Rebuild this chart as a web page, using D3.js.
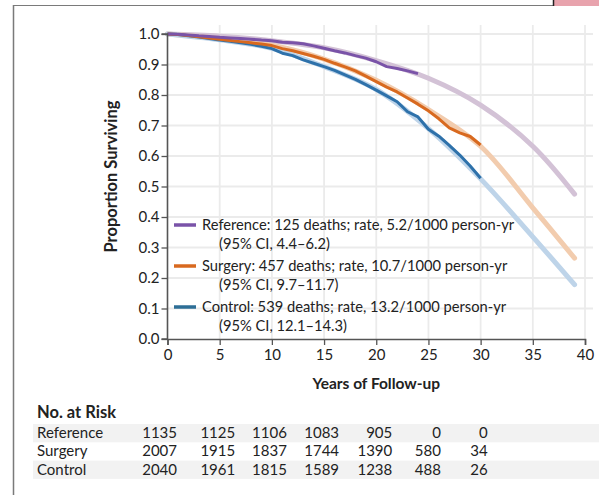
<!DOCTYPE html>
<html>
<head>
<meta charset="utf-8">
<script src="https://cdn.jsdelivr.net/npm/d3@7"></script>
<style>
  html, body { margin: 0; padding: 0; background: #fff; }
  svg { display: block; font-family: Lato, "Open Sans", sans-serif; }
</style>
</head>
<body>
<svg id="chart" width="599" height="495"></svg>
<script>
// ---- Data -------------------------------------------------------------
const groups = ["Reference", "Surgery", "Control"];

// Observed Kaplan–Meier survival (years, proportion surviving)
const refYears = [0,1,2,3,4,5,6,7,8,9,10,11,12,13,14,15,16,17,18,19,20,21,22,23,24];
const refObserved = [1.0,0.999,0.997,0.994,0.992,0.989,0.987,0.985,0.983,0.980,0.978,0.973,0.971,0.968,0.961,0.953,0.945,0.938,0.929,0.921,0.909,0.893,0.887,0.879,0.870];

const obsYears = [0,1,2,3,4,5,6,7,8,9,10,11,12,13,14,15,16,17,18,19,20,21,22,23,24,25,26,27,28,29,30];
const surgeryObserved = [1.0,0.998,0.995,0.991,0.987,0.983,0.979,0.975,0.971,0.967,0.962,0.952,0.945,0.936,0.927,0.917,0.904,0.892,0.879,0.862,0.844,0.826,0.810,0.790,0.770,0.748,0.722,0.692,0.676,0.664,0.636];
const controlObserved = [1.0,0.998,0.994,0.990,0.985,0.980,0.976,0.971,0.966,0.960,0.952,0.937,0.929,0.915,0.904,0.893,0.881,0.866,0.851,0.834,0.816,0.797,0.778,0.745,0.728,0.688,0.665,0.635,0.603,0.567,0.527];

// Projected survival curves
const projYears = [0,5,10,15,20,25,30,35,39];
const refProjected = [1.0,0.993,0.978,0.955,0.913,0.855,0.767,0.632,0.475];
const surgeryProjected = [1.0,0.985,0.963,0.918,0.848,0.752,0.632,0.430,0.265];
const controlProjected = [1.0,0.981,0.953,0.893,0.818,0.690,0.525,0.335,0.178];

// Legend text
const legendMain = [
  "Reference: 125 deaths; rate, 5.2/1000 person-yr",
  "Surgery: 457 deaths; rate, 10.7/1000 person-yr",
  "Control: 539 deaths; rate, 13.2/1000 person-yr"
];
const legendCI = ["(95% CI, 4.4\u20136.2)", "(95% CI, 9.7\u201311.7)", "(95% CI, 12.1\u201314.3)"];

// Axis ticks
const xTicks = [0,5,10,15,20,25,30,35,40];
const yTicks = [0.0,0.1,0.2,0.3,0.4,0.5,0.6,0.7,0.8,0.9,1.0];

// Number at risk
const riskYears = [0,5,10,15,20,25,30];
const riskReference = [1135,1125,1106,1083,905,0,0];
const riskSurgery = [2007,1915,1837,1744,1390,580,34];
const riskControl = [2040,1961,1815,1589,1238,488,26];

// ---- Styling ----------------------------------------------------------
const darkColors = ["#7a53a8", "#d8691f", "#2e71aa"];
const lightColors = ["#d3c2d6", "#f2ccae", "#bed4e9"];
const swatchColors = ["#7a53a8", "#d8691f", "#2d6e96"];

const svg = d3.select("#chart");

// Page frame
svg.append("line").attr("x1", 13.5).attr("x2", 13.5).attr("y1", 5).attr("y2", 495)
  .attr("stroke", "#7a7a7a").attr("stroke-width", 1.5);
svg.append("line").attr("x1", 13).attr("x2", 553).attr("y1", 5.5).attr("y2", 5.5)
  .attr("stroke", "#7a7a7a").attr("stroke-width", 1.2);
svg.append("rect").attr("x", 553).attr("y", 0).attr("width", 46).attr("height", 6)
  .attr("fill", "#e8a3ad");
svg.append("line").attr("x1", 553.5).attr("x2", 553.5).attr("y1", 0).attr("y2", 6)
  .attr("stroke", "#222").attr("stroke-width", 1.5);

// ---- Scales -----------------------------------------------------------
const x = d3.scaleLinear().domain([0, 40]).range([167.5, 585]);
const y = d3.scaleLinear().domain([0, 1]).range([339, 34]);

// Grid
const grid = svg.append("g");
grid.selectAll("line.v").data(xTicks.slice(1)).join("line")
  .attr("x1", d => x(d)).attr("x2", d => x(d))
  .attr("y1", 25).attr("y2", y(0))
  .attr("stroke", "#ebebeb").attr("stroke-width", 1.8);
grid.selectAll("line.h").data(yTicks.slice(1)).join("line")
  .attr("x1", x(0)).attr("x2", 593)
  .attr("y1", d => y(d)).attr("y2", d => y(d))
  .attr("stroke", "#ebebeb").attr("stroke-width", 1.8);

// ---- Curves -----------------------------------------------------------
const smooth = d3.line().x(d => x(d[0])).y(d => y(d[1])).curve(d3.curveCatmullRom.alpha(0.5));
const jagged = d3.line().x(d => x(d[0])).y(d => y(d[1])).curve(d3.curveLinear);

const projected = [refProjected, surgeryProjected, controlProjected];
projected.forEach((vals, i) => {
  svg.append("path")
    .datum(projYears.map((t, k) => [t, vals[k]]))
    .attr("d", smooth).attr("fill", "none")
    .attr("stroke", lightColors[i]).attr("stroke-width", 5)
    .attr("stroke-linecap", "round").attr("stroke-linejoin", "round");
});

const observed = [
  refYears.map((t, k) => [t, refObserved[k]]),
  obsYears.map((t, k) => [t, surgeryObserved[k]]),
  obsYears.map((t, k) => [t, controlObserved[k]])
];
[2, 1, 0].forEach(i => {
  svg.append("path")
    .datum(observed[i])
    .attr("d", jagged).attr("fill", "none")
    .attr("stroke", darkColors[i]).attr("stroke-width", 3)
    .attr("stroke-linejoin", "round");
});

// ---- Axes -------------------------------------------------------------
const axisColor = "#555";
const yAxis = svg.append("g").attr("transform", `translate(${x(0)},0)`)
  .call(d3.axisLeft(y).tickValues(yTicks).tickFormat(d3.format(".1f")).tickSize(6).tickPadding(2));
const xAxis = svg.append("g").attr("transform", `translate(0,${y(0)})`)
  .call(d3.axisBottom(x).tickValues(xTicks).tickSize(6).tickPadding(4));
[yAxis, xAxis].forEach(a => {
  a.select(".domain").attr("stroke", axisColor).attr("stroke-width", 1.6);
  a.selectAll(".tick line").attr("stroke", axisColor).attr("stroke-width", 1.3);
  a.selectAll(".tick text").attr("fill", "#222").style("font-size", "15px")
    .style("font-family", "Lato, sans-serif");
});
yAxis.select(".domain").attr("d", `M-6,${y(0)}H0V${y(1)}H-6`);

svg.append("text")
  .attr("transform", `translate(117,${(y(0) + y(1)) / 2 - 10}) rotate(-90)`)
  .attr("text-anchor", "middle").attr("fill", "#222")
  .style("font-size", "16.5px").style("font-weight", "bold")
  .text("Proportion Surviving");

svg.append("text")
  .attr("x", (x(0) + x(40)) / 2).attr("y", 389)
  .attr("text-anchor", "middle").attr("fill", "#222")
  .style("font-size", "15.5px").style("font-weight", "bold")
  .text("Years of Follow-up");

// ---- Legend -----------------------------------------------------------
const legend = svg.append("g");
groups.forEach((g, i) => {
  const base = 230 + i * 41;
  legend.append("line").attr("x1", 174).attr("x2", 196)
    .attr("y1", base - 5).attr("y2", base - 5)
    .attr("stroke", swatchColors[i]).attr("stroke-width", 3.5);
  legend.append("text").attr("x", 202).attr("y", base)
    .attr("fill", "#222").style("font-size", "14.7px").text(legendMain[i]);
  legend.append("text").attr("x", 219).attr("y", base + 18.5)
    .attr("fill", "#222").style("font-size", "14.7px").text(legendCI[i]);
});

// ---- Number at risk table --------------------------------------------
svg.append("text").attr("x", 37).attr("y", 418)
  .attr("fill", "#222").style("font-size", "16.5px").style("font-weight", "bold")
  .text("No. at Risk");

const rows = [riskReference, riskSurgery, riskControl];
const rowTop = 424, rowH = 18.3;
// right edge of each count column relative to its year on the x scale
const colNudge = [9.5, 15.5, 15, 15, 16, 12.5, 7];
rows.forEach((vals, r) => {
  if (r % 2 === 0) {
    svg.append("rect").attr("x", 33).attr("y", rowTop + r * rowH)
      .attr("width", 566).attr("height", rowH).attr("fill", "#f2f2f2");
  }
  const base = rowTop + r * rowH + 14;
  svg.append("text").attr("x", 37).attr("y", base)
    .attr("fill", "#222").style("font-size", "15px").text(groups[r]);
  svg.selectAll(null).data(vals).join("text")
    .attr("x", (d, k) => x(riskYears[k]) + colNudge[k])
    .attr("y", base).attr("text-anchor", "end")
    .attr("fill", "#222").style("font-size", "15px")
    .text(d => d);
});
</script>
</body>
</html>
